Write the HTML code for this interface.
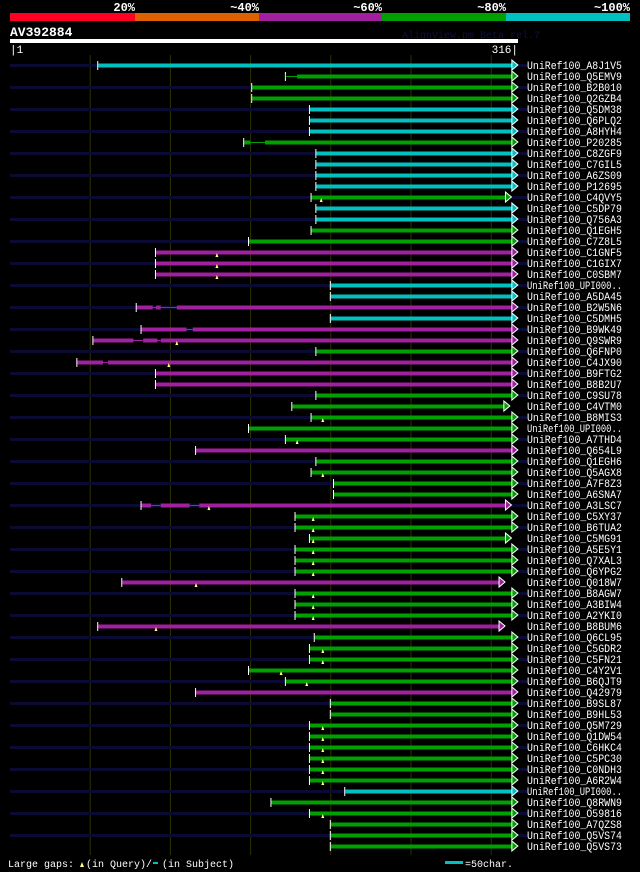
<!DOCTYPE html>
<html><head><meta charset="utf-8"><style>
html,body{margin:0;padding:0;background:#000;}
svg{display:block;font-family:"Liberation Mono","DejaVu Sans Mono",monospace;}
</style></head><body>
<svg id="c" width="640" height="872" viewBox="0 0 640 872">
<g>
<rect x="10" y="13" width="125" height="8" fill="#ff0022"/>
<rect x="135" y="13" width="124" height="8" fill="#e06000"/>
<rect x="259" y="13" width="123" height="8" fill="#a020a0"/>
<rect x="382" y="13" width="124" height="8" fill="#00a000"/>
<rect x="506" y="13" width="124" height="8" fill="#00c0c0"/>
<g fill="#fff" font-size="12" font-weight="bold" text-anchor="end">
<text x="135" y="11">20%</text>
<text x="259" y="11">~40%</text>
<text x="382" y="11">~60%</text>
<text x="506" y="11">~80%</text>
<text x="630" y="11">~100%</text>
</g></g>
<text x="10" y="36" fill="#fff" font-size="13" font-weight="bold">AV392884</text>
<text x="402" y="38" fill="#101040" font-size="10">AlignView.pm Beta rel.7</text>
<rect x="10" y="39" width="508" height="4" fill="#fff"/>
<text x="10" y="53" fill="#fff" font-size="11">|1</text>
<text x="518" y="53" fill="#fff" font-size="11" text-anchor="end">316|</text>
<g id="grid"></g><g id="rows"></g>
<g fill="#fff" font-size="10">
<text x="8" y="867">Large gaps:</text>
<path d="M80,867 l2,-5 l2,5 z" fill="#ffff80"/>
<text x="86" y="867">(in Query)/</text>
<rect x="153" y="862" width="5" height="2" fill="#00c0c0"/>
<text x="162" y="867">(in Subject)</text>
</g>
<rect x="445" y="861" width="18" height="3" fill="#00c0c0"/>
<text x="465" y="867" fill="#fff" font-size="10">=50char.</text>
</svg>
<script>
const names=["A8J1V5","Q5EMV9","B2B010","Q2GZB4","Q5DM38","Q6PLQ2","A8HYH4","P20285","C8ZGF9","C7GIL5","A6ZS09","P12695","C4QVY5","C5DP79","Q756A3","Q1EGH5","C7Z8L5","C1GNF5","C1GIX7","C0SBM7","UPI000..","A5DA45","B2W5N6","C5DMH5","B9WK49","Q9SWR9","Q6FNP0","C4JX90","B9FTG2","B8B2U7","C9SU78","C4VTM0","B8MIS3","UPI000..","A7THD4","Q654L9","Q1EGH6","Q5AGX8","A7F8Z3","A6SNA7","A3LSC7","C5XY37","B6TUA2","C5MG91","A5E5Y1","Q7XAL3","Q6YPG2","Q018W7","B8AGW7","A3BIW4","A2YKI0","B8BUM6","Q6CL95","C5GDR2","C5FN21","C4Y2V1","B6QJT9","Q42979","B9SL87","B9HL53","Q5M729","Q1DW54","C6HKC4","C5PC30","C0NDH3","A6R2W4","UPI000..","Q8RWN9","O59816","A7QZS8","Q5VS74","Q5VS73"];
const colors=("cgggcccg"+"ccccgccgg"+"mmmccmcmm"+"gmmm"+"ggggg"+"m"+"gggg"+"m"+"gggggg"+"m"+"ggg"+"m"+"ggggg"+"m"+"gggggggg"+"c"+"ggggg").split("");
const starts=[55,172,151,151,187,187,187,146,191,191,191,191,188,191,191,188,149,91,91,91,200,200,79,200,82,52,191,42,91,91,191,176,188,149,172,116,191,188,202,202,82,178,178,187,178,178,178,70,178,178,178,55,190,187,187,149,172,116,200,200,187,187,187,187,187,187,209,163,187,200,200,200];
const ends=[316,316,316,316,316,316,316,316,316,316,316,316,312,316,316,316,316,316,316,316,316,316,316,316,316,316,316,316,316,316,316,311,316,316,316,316,316,316,316,316,312,316,316,312,316,316,316,308,316,316,316,308,316,316,316,316,316,316,316,316,316,316,316,316,316,316,316,316,316,316,316,316];
const gapMarks=[null,null,null,null,null,null,null,null,null,null,null,null,194,null,null,null,null,129,129,129,null,null,null,null,null,104,null,99,null,null,null,null,195,null,179,null,null,195,null,null,124,189,189,189,189,189,189,116,189,189,189,91,null,195,195,169,185,null,null,null,195,195,195,195,195,195,null,null,195,null,null,null];
const gapRows=[1,7,22,22,24,25,25,27,40,40];
const gapFrom=[172,150,89,94,110,77,92,58,88,112];
const gapTo=[179,159,91,104,114,83,94,61,94,118];
const colMap={c:"#00c0c0",g:"#00a000",m:"#a020a0"};
const X=r=>10+r*1.604, Y=i=>65+i*11;
const NS="http://www.w3.org/2000/svg";
function mk(t,a){const e=document.createElementNS(NS,t);for(const k in a)e.setAttribute(k,a[k]);return e;}
const grid=document.getElementById('grid');
[50,100,150,200,250,300].forEach(v=>{
  const l=mk('line',{x1:X(v),x2:X(v),y1:55,y2:855,stroke:'#303000','stroke-width':1});
  
  
  grid.appendChild(l);
});
const rows=document.getElementById('rows');
const rowGroups=[];
names.forEach((n,i)=>{
  const g=mk('g',{});
  
  
  const y=Y(i);
  if(i%2===0){g.appendChild(mk('rect',{x:10,y:y-1,width:518,height:3,fill:'#0a0a32'}));}
  const x0=X(starts[i]),x1=X(ends[i])-5,col=colMap[colors[i]];
  const bar=mk('rect',{x:x0,y:y-1.5,width:x1-x0,height:4,fill:col});
  
  
  g.appendChild(bar);
  rowGroups.push(g);
  g.appendChild(mk('rect',{x:x0-1,y:y-4,width:1,height:9,fill:'#fff'}));
  g.appendChild(mk('path',{d:`M${x1},${y-5} L${x1+6},${y} L${x1},${y+5} Z`,fill:col,stroke:'#fff','stroke-width':1}));
  if(gapMarks[i]!==null){const gx=X(gapMarks[i]);g.appendChild(mk('path',{d:`M${gx-1.5},${y+5} L${gx},${y+1} L${gx+1.5},${y+5} Z`,fill:'#ffff80'}));}
  const t=mk('text',{x:527,y:y+4,fill:'#fff','font-size':11,textLength:95,lengthAdjust:'spacingAndGlyphs'});
  t.textContent='UniRef100_'+n;
  
  
  g.appendChild(t);
  rows.appendChild(g);
});
gapRows.forEach((r,k)=>{
  const y=Y(r),col=colMap[colors[r]];
  const a=X(gapFrom[k]),b=X(gapTo[k]);
  const bg=mk('rect',{x:a,y:y-1.5,width:b-a,height:4,fill:r%2===0?'#0a0a32':'#000'});
  
  
  rowGroups[r].insertBefore(bg,rowGroups[r].children[2]);
  rowGroups[r].insertBefore(mk('rect',{x:a,y:y,width:b-a,height:1,fill:col}),rowGroups[r].children[3]);
});
</script>
</body></html>
